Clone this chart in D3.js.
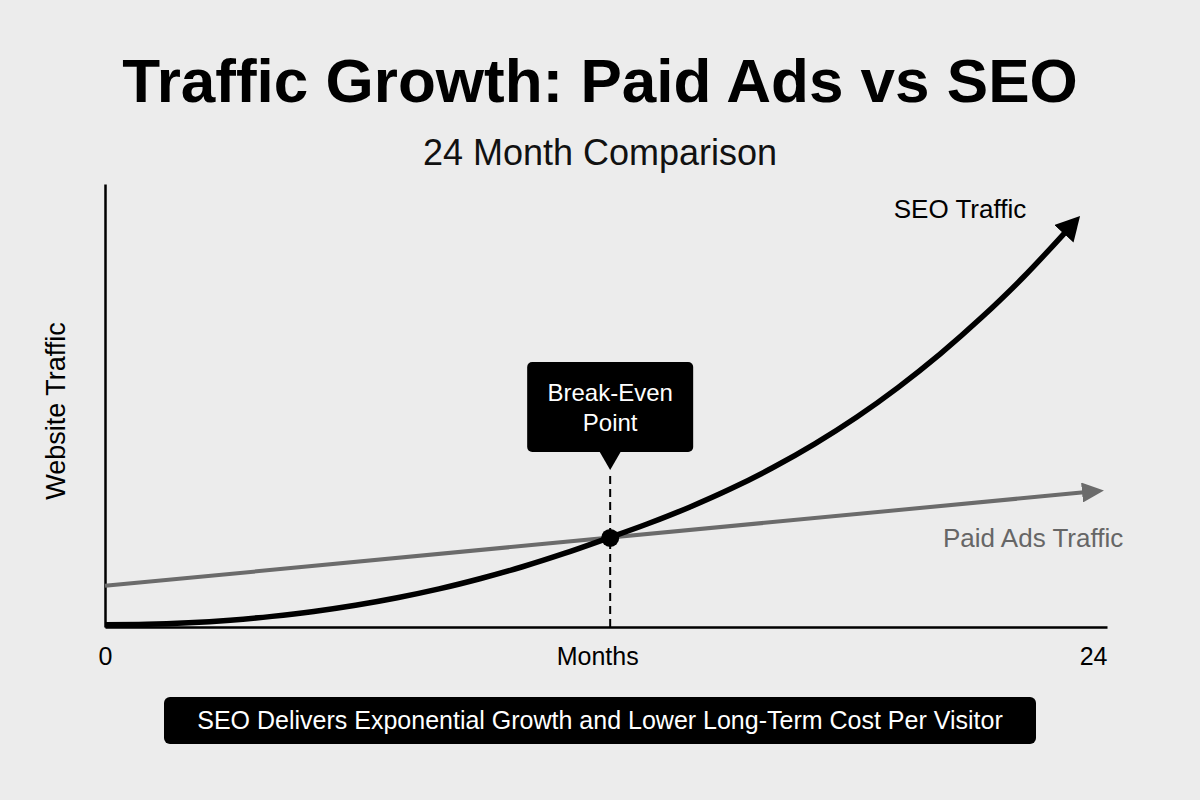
<!DOCTYPE html>
<html>
<head>
<meta charset="utf-8">
<script src="https://cdnjs.cloudflare.com/ajax/libs/d3/7.8.5/d3.min.js"></script>
<style>
  html, body { margin: 0; padding: 0; background: #ececec; }
  #my-draw { width: 1200px; height: 800px; }
  text { font-family: "Liberation Sans", Arial, sans-serif; }
</style>
</head>
<body>
<div id="my-draw"></div>
<script>
// values (traffic on a 0-100 index)
var seoMonths = [0, 1, 2, 3, 4, 5, 6, 7, 8, 9, 10, 11, 12, 13, 14, 15, 16, 17, 18, 19, 20, 21, 22, 23];
var seoValues = [0.5, 0.6, 0.95, 1.55, 2.4, 3.5, 4.9, 6.6, 8.6, 10.95, 13.6, 16.6, 19.9, 23.3, 27.05, 31.25, 36.0, 41.35, 47.35, 54.1, 61.6, 69.9, 79.0, 89.1];
var paidMonths = [0, 23.45];
var paidValues = [9.3, 30.4];
var breakEven = {month: 12.1, value: 20.1};
var xTicks = [0, 24];
var xTickLabels = ["0", "24"];

var seoData = seoMonths.map(function(m, i){ return {x: m, y: seoValues[i]}; });
var paidData = paidMonths.map(function(m, i){ return {x: m, y: paidValues[i]}; });

var height = 800, width = 1200;
var margin = {left: 105, top: 184, right: 93, bottom: 173};
var drawWidth = width - margin.left - margin.right;
var drawHeight = height - margin.top - margin.bottom;

var svg = d3.select("#my-draw")
            .append("svg")
            .attr("width", width)
            .attr("height", height)
            .attr("viewBox", [0, 0, width, height]);

svg.append("rect")
   .attr("width", width)
   .attr("height", height)
   .attr("fill", "#ececec");

// arrow heads
var defs = svg.append("defs");
defs.append("marker")
    .attr("id", "arrow-seo")
    .attr("viewBox", "0 0 24 26")
    .attr("markerUnits", "userSpaceOnUse")
    .attr("markerWidth", 24)
    .attr("markerHeight", 26)
    .attr("refX", 2)
    .attr("refY", 13)
    .attr("orient", "auto")
  .append("path")
    .attr("d", "M0,0 L24,13 L0,26 Z")
    .attr("fill", "#000");

defs.append("marker")
    .attr("id", "arrow-paid")
    .attr("viewBox", "0 0 22 20")
    .attr("markerUnits", "userSpaceOnUse")
    .attr("markerWidth", 22)
    .attr("markerHeight", 20)
    .attr("refX", 2)
    .attr("refY", 10)
    .attr("orient", "auto")
  .append("path")
    .attr("d", "M0,0 L22,10 L0,20 Z")
    .attr("fill", "#6b6b6b");

// titles
svg.append("text")
   .attr("x", width / 2)
   .attr("y", 102)
   .attr("text-anchor", "middle")
   .attr("font-size", 62)
   .attr("font-weight", "bold")
   .attr("fill", "#000")
   .text("Traffic Growth: Paid Ads vs SEO");

svg.append("text")
   .attr("x", width / 2)
   .attr("y", 165)
   .attr("text-anchor", "middle")
   .attr("font-size", 36)
   .attr("fill", "#111")
   .text("24 Month Comparison");

var canvas = svg.append("g")
                .attr("transform", "translate(" + margin.left + "," + margin.top + ")");

var x = d3.scaleLinear()
          .domain([0, 24])
          .range([0, drawWidth]);

var y = d3.scaleLinear()
          .domain([0, 100])
          .range([drawHeight, 0]);

// axes
var xAxis = canvas.append("g")
      .attr("class", "x-axis")
      .attr("transform", "translate(0," + drawHeight + ")")
      .call(d3.axisBottom(x)
              .tickValues(xTicks)
              .tickSize(0)
              .tickPadding(20)
              .tickFormat(function(d, i){ return xTickLabels[i]; }));

xAxis.select(".domain").attr("stroke", "#000").attr("stroke-width", 2.5);
xAxis.selectAll("text")
     .attr("font-size", 25)
     .attr("font-family", "Liberation Sans, Arial, sans-serif")
     .attr("fill", "#000")
     .attr("text-anchor", function(d){ return d == 24 ? "end" : "middle"; });

var yAxis = canvas.append("g")
      .attr("class", "y-axis")
      .call(d3.axisLeft(y).tickValues([]).tickSizeOuter(0));

yAxis.select(".domain").attr("stroke", "#000").attr("stroke-width", 2.5);

// axis titles
canvas.append("text")
      .attr("text-anchor", "middle")
      .attr("x", x(11.8))
      .attr("y", drawHeight + 20)
      .attr("dy", "0.71em")
      .attr("font-size", 25)
      .attr("fill", "#000")
      .text("Months");

canvas.append("text")
      .attr("text-anchor", "middle")
      .attr("transform", "rotate(-90)")
      .attr("x", -227)
      .attr("y", -40)
      .attr("font-size", 27)
      .attr("fill", "#000")
      .text("Website Traffic");

// break-even guide
var bx = x(breakEven.month), by = y(breakEven.value);

canvas.append("line")
      .attr("x1", bx)
      .attr("x2", bx)
      .attr("y1", 292)
      .attr("y2", drawHeight)
      .attr("stroke", "#000")
      .attr("stroke-width", 2)
      .attr("stroke-dasharray", "8,5");

// paid ads line
canvas.append("path")
      .datum(paidData)
      .attr("fill", "none")
      .attr("stroke", "#6b6b6b")
      .attr("stroke-width", 4)
      .attr("marker-end", "url(#arrow-paid)")
      .attr("d", d3.line()
        .x(function(d){ return x(d.x); })
        .y(function(d){ return y(d.y); }));

// seo curve
canvas.append("path")
      .datum(seoData)
      .attr("fill", "none")
      .attr("stroke", "#000")
      .attr("stroke-width", 5.5)
      .attr("marker-end", "url(#arrow-seo)")
      .attr("d", d3.line()
        .curve(d3.curveMonotoneX)
        .x(function(d){ return x(d.x); })
        .y(function(d){ return y(d.y); }));

canvas.append("circle")
      .attr("cx", bx)
      .attr("cy", by)
      .attr("r", 9)
      .attr("fill", "#000");

// series labels
canvas.append("text")
      .attr("x", 960 - margin.left)
      .attr("y", 218 - margin.top)
      .attr("text-anchor", "middle")
      .attr("font-size", 26)
      .attr("fill", "#000")
      .text("SEO Traffic");

canvas.append("text")
      .attr("x", 943 - margin.left)
      .attr("y", 547 - margin.top)
      .attr("font-size", 26)
      .attr("fill", "#666")
      .text("Paid Ads Traffic");

// callout box
var callout = canvas.append("g")
      .attr("transform", "translate(" + bx + "," + (362 - margin.top) + ")");

callout.append("rect")
       .attr("x", -83)
       .attr("y", 0)
       .attr("width", 166)
       .attr("height", 90)
       .attr("rx", 5)
       .attr("fill", "#000");

callout.append("path")
       .attr("d", "M-11,89 L11,89 L0,108 Z")
       .attr("fill", "#000");

callout.append("text")
       .attr("text-anchor", "middle")
       .attr("y", 39)
       .attr("font-size", 24)
       .attr("fill", "#fff")
       .text("Break-Even");

callout.append("text")
       .attr("text-anchor", "middle")
       .attr("y", 69)
       .attr("font-size", 24)
       .attr("fill", "#fff")
       .text("Point");

// bottom banner
svg.append("rect")
   .attr("x", 164)
   .attr("y", 697)
   .attr("width", 872)
   .attr("height", 47)
   .attr("rx", 6)
   .attr("fill", "#000");

svg.append("text")
   .attr("x", 600)
   .attr("y", 729)
   .attr("text-anchor", "middle")
   .attr("font-size", 25)
   .attr("fill", "#fff")
   .text("SEO Delivers Exponential Growth and Lower Long-Term Cost Per Visitor");
</script>
</body>
</html>
